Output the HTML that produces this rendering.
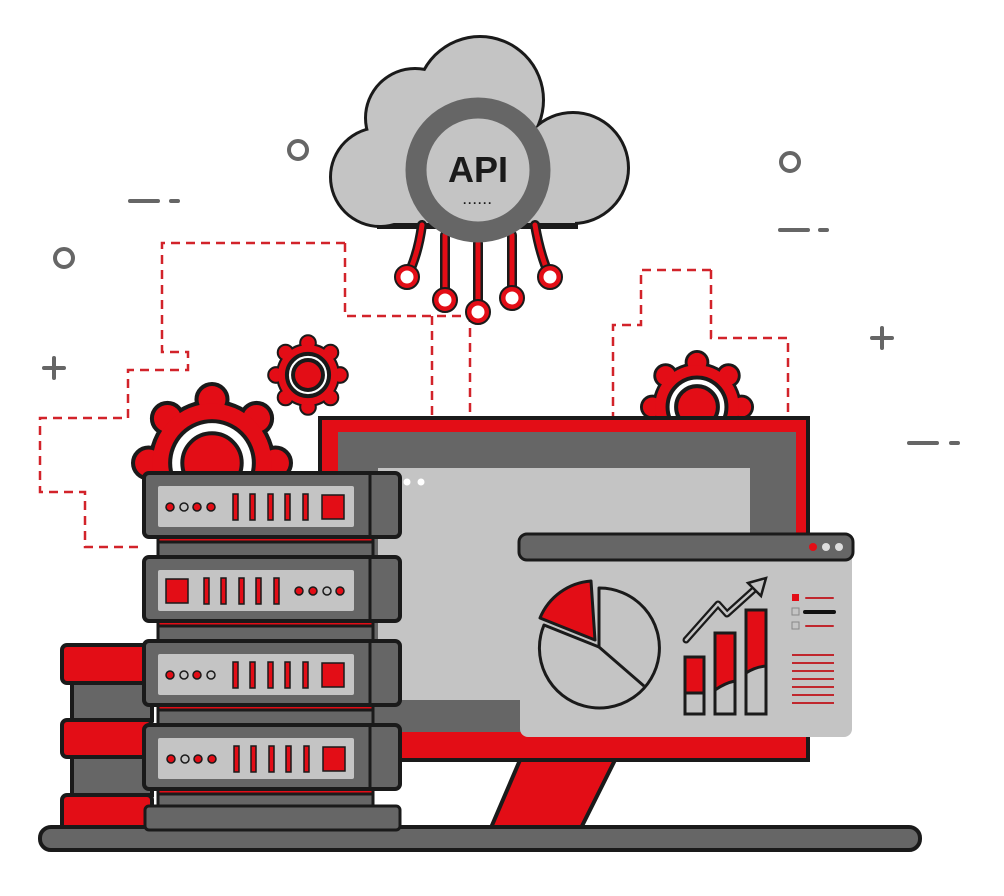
<!DOCTYPE html>
<html><head><meta charset="utf-8"><style>html,body{margin:0;padding:0;background:#fff}svg{display:block}</style></head>
<body>
<svg width="1004" height="896" viewBox="0 0 1004 896" xmlns="http://www.w3.org/2000/svg">
<defs>
<g id="gear">
  <g stroke="#1a1a1a" stroke-width="6" vector-effect="non-scaling-stroke" fill="#e30d16">
    <circle cx="0" cy="-47" r="10"/><circle cx="33" cy="-33" r="10"/><circle cx="47" cy="0" r="10"/><circle cx="33" cy="33" r="10"/>
    <circle cx="0" cy="47" r="10"/><circle cx="-33" cy="33" r="10"/><circle cx="-47" cy="0" r="10"/><circle cx="-33" cy="-33" r="10"/>
    <circle r="44"/>
  </g>
  <g fill="#e30d16">
    <circle cx="0" cy="-47" r="10"/><circle cx="33" cy="-33" r="10"/><circle cx="47" cy="0" r="10"/><circle cx="33" cy="33" r="10"/>
    <circle cx="0" cy="47" r="10"/><circle cx="-33" cy="33" r="10"/><circle cx="-47" cy="0" r="10"/><circle cx="-33" cy="-33" r="10"/>
    <circle r="44"/>
  </g>
  <circle r="31" fill="#fff" stroke="#1a1a1a" stroke-width="4" vector-effect="non-scaling-stroke"/>
  <circle r="22" fill="#e30d16" stroke="#1a1a1a" stroke-width="4" vector-effect="non-scaling-stroke"/>
</g>
</defs>

<g fill="none" stroke="#d2232a" stroke-width="2.5" stroke-dasharray="9 6">
  <path d="M345 243 H162 V352 H188 V370 H128 V418 H40 V492 H85 V547 H140"/>
  <path d="M345 243 V316 H470 V420"/>
  <path d="M432 316 V420"/>
  <path d="M711 270 H641 V325 H613 V418"/>
  <path d="M711 270 V338 H788 V418"/>
</g>

<g fill="none" stroke="#666" stroke-width="4" stroke-linecap="round">
  <circle cx="298" cy="150" r="9"/><circle cx="790" cy="162" r="9"/><circle cx="64" cy="258" r="9"/>
  <path d="M130 201 H158 M171 201 H178"/>
  <path d="M780 230 H808 M820 230 H827"/>
  <path d="M909 443 H937 M951 443 H958"/>
  <path d="M44 368 H64 M54 358 V378"/>
  <path d="M872 338 H892 M882 328 V348"/>
</g>

<g stroke="#1a1a1a" stroke-width="6" fill="#c4c4c4">
  <circle cx="380" cy="177" r="48"/><circle cx="415" cy="118" r="48"/><circle cx="480" cy="100" r="62"/><circle cx="573" cy="168" r="54"/>
  <rect x="380" y="150" width="195" height="76"/>
</g>
<g fill="#c4c4c4">
  <circle cx="380" cy="177" r="48"/><circle cx="415" cy="118" r="48"/><circle cx="480" cy="100" r="62"/><circle cx="573" cy="168" r="54"/>
  <rect x="380" y="150" width="195" height="73"/>
</g>
<g fill="none" stroke-linecap="round">
  <g stroke="#1a1a1a" stroke-width="10">
    <path d="M422 225 Q418 255 407 277"/><path d="M445 235 V300"/><path d="M478 243 V312"/><path d="M512 235 V298"/><path d="M535 225 Q540 255 550 277"/>
  </g>
  <g stroke="#e30d16" stroke-width="5">
    <path d="M422 225 Q418 255 407 277"/><path d="M445 235 V300"/><path d="M478 243 V312"/><path d="M512 235 V298"/><path d="M535 225 Q540 255 550 277"/>
  </g>
</g>
<g fill="#fff" stroke="#e30d16" stroke-width="5">
  <circle cx="407" cy="277" r="9"/><circle cx="445" cy="300" r="9"/><circle cx="478" cy="312" r="9"/><circle cx="512" cy="298" r="9"/><circle cx="550" cy="277" r="9"/>
</g>
<g fill="none" stroke="#1a1a1a" stroke-width="2">
  <circle cx="407" cy="277" r="12"/><circle cx="445" cy="300" r="12"/><circle cx="478" cy="312" r="12"/><circle cx="512" cy="298" r="12"/><circle cx="550" cy="277" r="12"/>
</g>
<circle cx="478" cy="170" r="62" fill="#c4c4c4" stroke="#666" stroke-width="21"/>
<text x="478" y="182" text-anchor="middle" font-family="Liberation Sans, sans-serif" font-weight="bold" font-size="36" fill="#1a1a1a">API</text>
<text x="478" y="207" text-anchor="middle" font-family="Liberation Sans, sans-serif" font-weight="bold" font-size="12" fill="#1a1a1a" letter-spacing="1">······</text>

<use href="#gear" transform="translate(308,375) scale(0.68)"/>
<use href="#gear" transform="translate(697,407) scale(0.95)"/>
<use href="#gear" transform="translate(212,463) scale(1.35)"/>

<rect x="320" y="418" width="488" height="342" fill="#e30d16" stroke="#1a1a1a" stroke-width="4"/>
<rect x="338" y="432" width="458" height="300" fill="#666"/>
<rect x="378" y="468" width="372" height="232" fill="#c4c4c4"/>
<circle cx="407" cy="482" r="3.5" fill="#fff"/><circle cx="421" cy="482" r="3.5" fill="#fff"/>
<path d="M520 760 L615 760 L580 830 L490 830 Z" fill="#e30d16" stroke="#1a1a1a" stroke-width="4"/>

<g stroke="#1a1a1a" stroke-width="4">
  <rect x="62" y="645" width="90" height="38" rx="5" fill="#e30d16"/>
  <rect x="72" y="683" width="80" height="37" fill="#666"/>
  <rect x="62" y="720" width="90" height="37" rx="5" fill="#e30d16"/>
  <rect x="72" y="757" width="80" height="38" fill="#666"/>
  <rect x="62" y="795" width="90" height="37" rx="5" fill="#e30d16"/>
</g>

<rect x="40" y="827" width="880" height="23" rx="11" fill="#666" stroke="#1a1a1a" stroke-width="4"/>

<g stroke="#1a1a1a" stroke-width="3">
  <rect x="158" y="536" width="215" height="22" fill="#666"/><rect x="158" y="536" width="215" height="6" fill="#e30d16"/>
  <rect x="158" y="620" width="215" height="22" fill="#666"/><rect x="158" y="620" width="215" height="6" fill="#e30d16"/>
  <rect x="158" y="704" width="215" height="22" fill="#666"/><rect x="158" y="704" width="215" height="6" fill="#e30d16"/>
  <rect x="158" y="788" width="215" height="22" fill="#666"/><rect x="158" y="788" width="215" height="6" fill="#e30d16"/>
  <rect x="145" y="806" width="255" height="24" rx="4" fill="#666"/>
</g>
<g id="srv">
  <rect x="144" y="473" width="256" height="64" rx="5" fill="#666" stroke="#1a1a1a" stroke-width="4"/>
  <line x1="370" y1="473" x2="370" y2="537" stroke="#1a1a1a" stroke-width="3"/>
  <rect x="158" y="486" width="196" height="41" rx="2" fill="#c4c4c4"/>
</g>
<use href="#srv" transform="translate(0,84)"/>
<use href="#srv" transform="translate(0,168)"/>
<use href="#srv" transform="translate(0,252)"/>
<g stroke="#1a1a1a" stroke-width="1.5" fill="#e30d16">
  <circle cx="170" cy="507" r="4"/><circle cx="184" cy="507" r="4" fill="#c4c4c4"/><circle cx="197" cy="507" r="4"/><circle cx="211" cy="507" r="4"/>
  <rect x="233" y="494" width="5" height="26"/><rect x="250" y="494" width="5" height="26"/><rect x="268" y="494" width="5" height="26"/><rect x="285" y="494" width="5" height="26"/><rect x="303" y="494" width="5" height="26"/>
  <rect x="322" y="495" width="22" height="24"/>
  <rect x="166" y="579" width="22" height="24"/>
  <rect x="204" y="578" width="5" height="26"/><rect x="221" y="578" width="5" height="26"/><rect x="239" y="578" width="5" height="26"/><rect x="256" y="578" width="5" height="26"/><rect x="274" y="578" width="5" height="26"/>
  <circle cx="299" cy="591" r="4"/><circle cx="313" cy="591" r="4"/><circle cx="327" cy="591" r="4" fill="#c4c4c4"/><circle cx="340" cy="591" r="4"/>
  <circle cx="170" cy="675" r="4"/><circle cx="184" cy="675" r="4" fill="#c4c4c4"/><circle cx="197" cy="675" r="4"/><circle cx="211" cy="675" r="4" fill="#c4c4c4"/>
  <rect x="233" y="662" width="5" height="26"/><rect x="250" y="662" width="5" height="26"/><rect x="268" y="662" width="5" height="26"/><rect x="285" y="662" width="5" height="26"/><rect x="303" y="662" width="5" height="26"/>
  <rect x="322" y="663" width="22" height="24"/>
  <circle cx="171" cy="759" r="4"/><circle cx="185" cy="759" r="4" fill="#c4c4c4"/><circle cx="198" cy="759" r="4"/><circle cx="212" cy="759" r="4"/>
  <rect x="234" y="746" width="5" height="26"/><rect x="251" y="746" width="5" height="26"/><rect x="269" y="746" width="5" height="26"/><rect x="286" y="746" width="5" height="26"/><rect x="304" y="746" width="5" height="26"/>
  <rect x="323" y="747" width="22" height="24"/>
</g>

<rect x="520" y="535" width="332" height="202" rx="8" fill="#c4c4c4"/>
<rect x="519" y="534" width="334" height="26" rx="8" fill="#666" stroke="#1a1a1a" stroke-width="3"/>
<circle cx="813" cy="547" r="4" fill="#e30d16"/><circle cx="826" cy="547" r="4" fill="#ddd"/><circle cx="839" cy="547" r="4" fill="#ddd"/>
<g stroke="#1a1a1a" stroke-width="3" stroke-linejoin="round">
  <path d="M599 647 L544 625 A60 60 0 1 0 599 588 Z" fill="#c4c4c4"/>
  <line x1="599" y1="647" x2="644" y2="686"/>
  <path d="M595 640 L540 618 A60 60 0 0 1 591 581 Z" fill="#e30d16"/>
</g>
<g stroke="#1a1a1a" stroke-width="3">
  <rect x="685" y="657" width="19" height="57" fill="#c4c4c4"/><rect x="685" y="657" width="19" height="36" fill="#e30d16"/>
  <rect x="715" y="633" width="20" height="81" fill="#c4c4c4"/>
  <path d="M715 633 H735 V681 Q725 683 715 690 Z" fill="#e30d16"/>
  <rect x="746" y="610" width="20" height="104" fill="#c4c4c4"/>
  <path d="M746 610 H766 V666 Q755 667 746 673 Z" fill="#e30d16"/>
</g>
<path d="M686 640 L718 604 L727 614 L758 586" fill="none" stroke="#1a1a1a" stroke-width="7" stroke-linecap="round" stroke-linejoin="round"/>
<path d="M686 640 L718 604 L727 614 L758 586" fill="none" stroke="#c4c4c4" stroke-width="2.5" stroke-linecap="round" stroke-linejoin="round"/>
<path d="M748 583 L766 578 L761 596 Z" fill="#c4c4c4" stroke="#1a1a1a" stroke-width="2.5"/>
<rect x="792" y="594" width="7" height="7" fill="#e30d16"/>
<rect x="792" y="608" width="7" height="7" fill="none" stroke="#888"/>
<rect x="792" y="622" width="7" height="7" fill="none" stroke="#888"/>
<g stroke-linecap="round">
  <line x1="806" y1="598" x2="833" y2="598" stroke="#c0272d" stroke-width="2"/>
  <line x1="805" y1="612" x2="834" y2="612" stroke="#111" stroke-width="4"/>
  <line x1="806" y1="626" x2="833" y2="626" stroke="#c0272d" stroke-width="2"/>
</g>
<g stroke="#c0272d" stroke-width="2">
  <line x1="792" y1="655" x2="834" y2="655"/><line x1="792" y1="663" x2="834" y2="663"/><line x1="792" y1="671" x2="834" y2="671"/>
  <line x1="792" y1="679" x2="834" y2="679"/><line x1="792" y1="687" x2="834" y2="687"/><line x1="792" y1="695" x2="834" y2="695"/><line x1="792" y1="703" x2="834" y2="703"/>
</g>
</svg>
</body></html>
